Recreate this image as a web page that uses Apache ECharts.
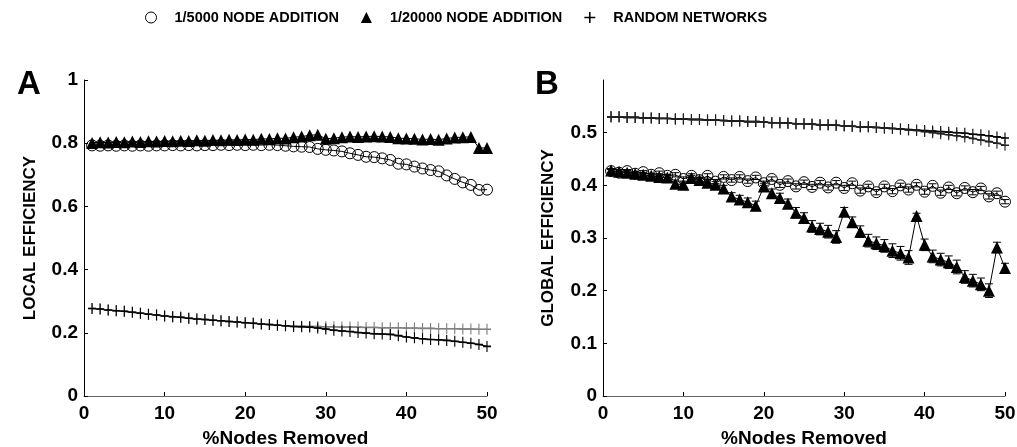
<!DOCTYPE html>
<html>
<head>
<meta charset="utf-8">
<script src="https://cdn.jsdelivr.net/npm/echarts@6/dist/echarts.min.js"></script>
<style>
html,body{margin:0;padding:0;background:#fff;}
#chart{width:1017px;height:447px;}
</style>
</head>
<body>
<div id="chart"></div>
<script>
// ---------- DATA ----------
const pctRemoved = [1,2,3,4,5,6,7,8,9,10,11,12,13,14,15,16,17,18,19,20,21,22,23,24,25,26,27,28,29,30,31,32,33,34,35,36,37,38,39,40,41,42,43,44,45,46,47,48,49,50];
const seriesNames = ['1/5000 NODE ADDITION', '1/20000 NODE ADDITION', 'RANDOM NETWORKS'];

// Panel A: local efficiency
const localEff5000 = [0.793,0.792,0.793,0.792,0.793,0.792,0.793,0.792,0.793,0.793,0.794,0.793,0.794,0.793,0.794,0.794,0.795,0.794,0.795,0.794,0.795,0.794,0.795,0.794,0.792,0.790,0.789,0.788,0.782,0.779,0.777,0.774,0.768,0.763,0.757,0.756,0.752,0.747,0.735,0.733,0.726,0.720,0.715,0.711,0.698,0.687,0.676,0.668,0.652,0.653];
const localEff20000 = [0.801,0.803,0.802,0.804,0.803,0.805,0.804,0.806,0.805,0.807,0.806,0.808,0.807,0.809,0.808,0.810,0.809,0.811,0.810,0.812,0.811,0.814,0.813,0.816,0.815,0.819,0.821,0.825,0.827,0.814,0.816,0.819,0.821,0.820,0.821,0.822,0.821,0.820,0.816,0.815,0.814,0.812,0.813,0.811,0.815,0.818,0.819,0.820,0.785,0.785];
const localRandA = [0.277,0.275,0.272,0.270,0.268,0.265,0.262,0.259,0.256,0.253,0.251,0.249,0.246,0.244,0.242,0.240,0.238,0.236,0.234,0.232,0.230,0.228,0.226,0.224,0.222,0.221,0.221,0.220,0.220,0.219,0.219,0.218,0.218,0.218,0.217,0.217,0.216,0.216,0.216,0.215,0.215,0.214,0.214,0.213,0.213,0.213,0.212,0.212,0.211,0.211];
const localRandB = [0.277,0.275,0.272,0.270,0.268,0.265,0.262,0.259,0.256,0.253,0.251,0.249,0.246,0.244,0.242,0.240,0.238,0.236,0.234,0.232,0.230,0.228,0.226,0.224,0.222,0.220,0.219,0.218,0.215,0.212,0.208,0.206,0.204,0.201,0.199,0.197,0.196,0.195,0.191,0.187,0.184,0.181,0.179,0.178,0.176,0.173,0.170,0.167,0.163,0.157];

// Panel B: global efficiency
const globalEff5000 = [0.427,0.424,0.427,0.422,0.425,0.420,0.423,0.418,0.420,0.412,0.418,0.410,0.418,0.407,0.416,0.410,0.416,0.408,0.415,0.404,0.412,0.401,0.408,0.398,0.406,0.397,0.405,0.396,0.405,0.395,0.404,0.390,0.398,0.387,0.398,0.389,0.400,0.392,0.401,0.388,0.399,0.386,0.396,0.385,0.395,0.387,0.394,0.379,0.385,0.369];
const globalErr5000 = [0.003,0.003,0.003,0.003,0.003,0.003,0.004,0.003,0.004,0.004,0.004,0.004,0.004,0.004,0.004,0.004,0.004,0.004,0.004,0.004,0.004,0.005,0.004,0.005,0.004,0.005,0.004,0.005,0.004,0.005,0.004,0.005,0.004,0.005,0.004,0.005,0.004,0.005,0.004,0.005,0.004,0.005,0.004,0.005,0.004,0.005,0.004,0.005,0.004,0.004];
const globalEff20000 = [0.428,0.426,0.424,0.422,0.420,0.418,0.416,0.415,0.403,0.401,0.414,0.410,0.405,0.401,0.394,0.379,0.373,0.368,0.361,0.398,0.385,0.376,0.365,0.348,0.338,0.322,0.317,0.312,0.302,0.350,0.330,0.312,0.295,0.290,0.285,0.276,0.271,0.263,0.342,0.287,0.265,0.259,0.254,0.245,0.226,0.219,0.212,0.200,0.282,0.243];
const globalErr20000 = [0.004,0.004,0.004,0.004,0.004,0.004,0.005,0.005,0.005,0.005,0.005,0.005,0.006,0.006,0.006,0.007,0.008,0.008,0.009,0.006,0.008,0.009,0.009,0.010,0.010,0.011,0.011,0.012,0.012,0.008,0.010,0.011,0.012,0.012,0.012,0.013,0.013,0.013,0.005,0.011,0.012,0.012,0.012,0.013,0.012,0.012,0.012,0.013,0.010,0.009];
const globalRandA = [0.530,0.530,0.529,0.529,0.528,0.528,0.527,0.527,0.526,0.526,0.525,0.525,0.524,0.524,0.523,0.522,0.522,0.521,0.521,0.520,0.519,0.519,0.518,0.517,0.517,0.516,0.515,0.515,0.514,0.513,0.512,0.511,0.511,0.510,0.509,0.508,0.507,0.506,0.505,0.504,0.503,0.502,0.501,0.500,0.499,0.497,0.496,0.494,0.492,0.490];
const globalRandB = [0.530,0.530,0.529,0.529,0.528,0.528,0.527,0.527,0.526,0.526,0.525,0.525,0.524,0.524,0.523,0.522,0.522,0.521,0.521,0.520,0.519,0.519,0.518,0.517,0.517,0.516,0.515,0.515,0.514,0.513,0.512,0.511,0.511,0.510,0.509,0.508,0.507,0.505,0.504,0.502,0.500,0.498,0.496,0.494,0.492,0.489,0.486,0.483,0.480,0.476];

// Tick labels
const xTicks = [0,10,20,30,40,50];
const yTicksA = [0,0.2,0.4,0.6,0.8,1];
const yTicksB = [0,0.1,0.2,0.3,0.4,0.5];

// ---------- CHART ----------
const FONT = '"Liberation Sans", Arial, Helvetica, sans-serif';
const plusPath = 'path://M4.3,0H5.7V10H4.3Z M0,4.3H10V5.7H0Z';
const pts = ys => pctRemoved.map((x, i) => [x, ys[i]]);
const errPts = (ys, es) => pctRemoved.map((x, i) => [x, ys[i] - es[i], ys[i] + es[i]]);

function errRender(params, api) {
  const x = api.value(0), lo = api.value(1), hi = api.value(2);
  const p1 = api.coord([x, lo]), p2 = api.coord([x, hi]);
  const w = 4;
  const st = { stroke: '#000', lineWidth: 1 };
  return {
    type: 'group',
    children: [
      { type: 'line', shape: { x1: p1[0], y1: p1[1], x2: p2[0], y2: p2[1] }, style: st },
      { type: 'line', shape: { x1: p1[0] - w, y1: p1[1], x2: p1[0] + w, y2: p1[1] }, style: st },
      { type: 'line', shape: { x1: p2[0] - w, y1: p2[1], x2: p2[0] + w, y2: p2[1] }, style: st }
    ]
  };
}

function xAxisCfg(gi) {
  return {
    type: 'value', gridIndex: gi, min: 0, max: 50, interval: 10,
    name: '%Nodes Removed', nameLocation: 'middle', nameGap: 33,
    nameTextStyle: { fontFamily: FONT, fontWeight: 'bold', fontSize: 19, color: '#000' },
    axisLine: { show: true, onZero: false, lineStyle: { color: '#666', width: 1 } },
    axisTick: { show: true, inside: true, length: 4, lineStyle: { color: '#000' }, customValues: xTicks },
    axisLabel: { fontFamily: FONT, fontWeight: 'bold', fontSize: 19, color: '#000', margin: 8, customValues: xTicks },
    splitLine: { show: false }
  };
}
function yAxisCfg(gi, name, max, interval, ticks, gap) {
  return {
    type: 'value', gridIndex: gi, min: 0, max: max, interval: interval,
    name: name, nameLocation: 'middle', nameGap: gap,
    nameTextStyle: { fontFamily: FONT, fontWeight: 'bold', fontSize: 17, color: '#000' },
    axisLine: { show: true, lineStyle: { color: '#000', width: 1 } },
    axisTick: { show: true, inside: true, length: 4, lineStyle: { color: '#000' }, customValues: ticks },
    axisLabel: { fontFamily: FONT, fontWeight: 'bold', fontSize: 19, color: '#000', margin: 6, customValues: ticks },
    splitLine: { show: false }
  };
}

function randSeries(name, data, xi, color) {
  return {
    name: name, type: 'line', xAxisIndex: xi, yAxisIndex: xi, data: data,
    symbol: plusPath, symbolSize: [8, 11],
    itemStyle: { color: color },
    lineStyle: { color: color, width: 1.3 },
    z: 2
  };
}
function circSeries(data, xi) {
  return {
    name: seriesNames[0], type: 'line', xAxisIndex: xi, yAxisIndex: xi, data: data,
    symbol: 'circle', symbolSize: 11,
    itemStyle: { color: 'rgba(255,255,255,0)', borderColor: '#000', borderWidth: 1 },
    lineStyle: { color: '#000', width: 1 },
    z: 4
  };
}
function triSeries(data, xi) {
  return {
    name: seriesNames[1], type: 'line', xAxisIndex: xi, yAxisIndex: xi, data: data,
    symbol: 'triangle', symbolSize: 12,
    itemStyle: { color: '#000' },
    lineStyle: { color: '#000', width: 1 },
    z: 3
  };
}
function errSeries(name, data, xi) {
  return {
    name: name, type: 'custom', xAxisIndex: xi, yAxisIndex: xi, data: data,
    renderItem: errRender, encode: { x: 0, y: [1, 2] }, z: 3, silent: true
  };
}

const chart = echarts.init(document.getElementById('chart'), null, { renderer: 'canvas' });
chart.setOption({
  animation: false,
  backgroundColor: '#fff',
  title: [
    { text: 'A', left: 12, top: 63, textStyle: { fontFamily: FONT, fontWeight: 'bold', fontSize: 33, color: '#000' } },
    { text: 'B', left: 530, top: 63, textStyle: { fontFamily: FONT, fontWeight: 'bold', fontSize: 33, color: '#000' } }
  ],
  legend: {
    left: 140, top: 5, itemGap: 22, itemWidth: 11, itemHeight: 11, selectedMode: false,
    textStyle: { fontFamily: FONT, fontWeight: 'bold', fontSize: 14.5, color: '#000', padding: [0, 0, 0, 13] },
    data: [
      { name: seriesNames[0], icon: 'circle', itemStyle: { color: '#fff', borderColor: '#000', borderWidth: 1 } },
      { name: seriesNames[1], icon: 'triangle', itemStyle: { color: '#000', borderWidth: 0 } },
      { name: seriesNames[2], icon: plusPath, itemStyle: { color: '#000', borderWidth: 0 } }
    ]
  },
  grid: [
    { left: 84, top: 80, width: 403, height: 316, outerBoundsMode: 'none', containLabel: false },
    { left: 603, top: 80, width: 402, height: 316, outerBoundsMode: 'none', containLabel: false }
  ],
  xAxis: [xAxisCfg(0), xAxisCfg(1)],
  yAxis: [
    yAxisCfg(0, 'LOCAL EFFICIENCY', 1, 0.2, yTicksA, 45),
    yAxisCfg(1, 'GLOBAL EFFICIENCY', 0.6, 0.1, yTicksB, 46)
  ],
  series: [
    randSeries(seriesNames[2], pts(localRandA), 0, '#808080'),
    randSeries(seriesNames[2], pts(localRandB), 0, '#000'),
    triSeries(pts(localEff20000), 0),
    circSeries(pts(localEff5000), 0),

    randSeries(seriesNames[2], pts(globalRandA), 1, '#000'),
    randSeries(seriesNames[2], pts(globalRandB), 1, '#222'),
    errSeries(seriesNames[1], errPts(globalEff20000, globalErr20000), 1),
    triSeries(pts(globalEff20000), 1),
    errSeries(seriesNames[0], errPts(globalEff5000, globalErr5000), 1),
    circSeries(pts(globalEff5000), 1)
  ]
});
</script>
</body>
</html>
